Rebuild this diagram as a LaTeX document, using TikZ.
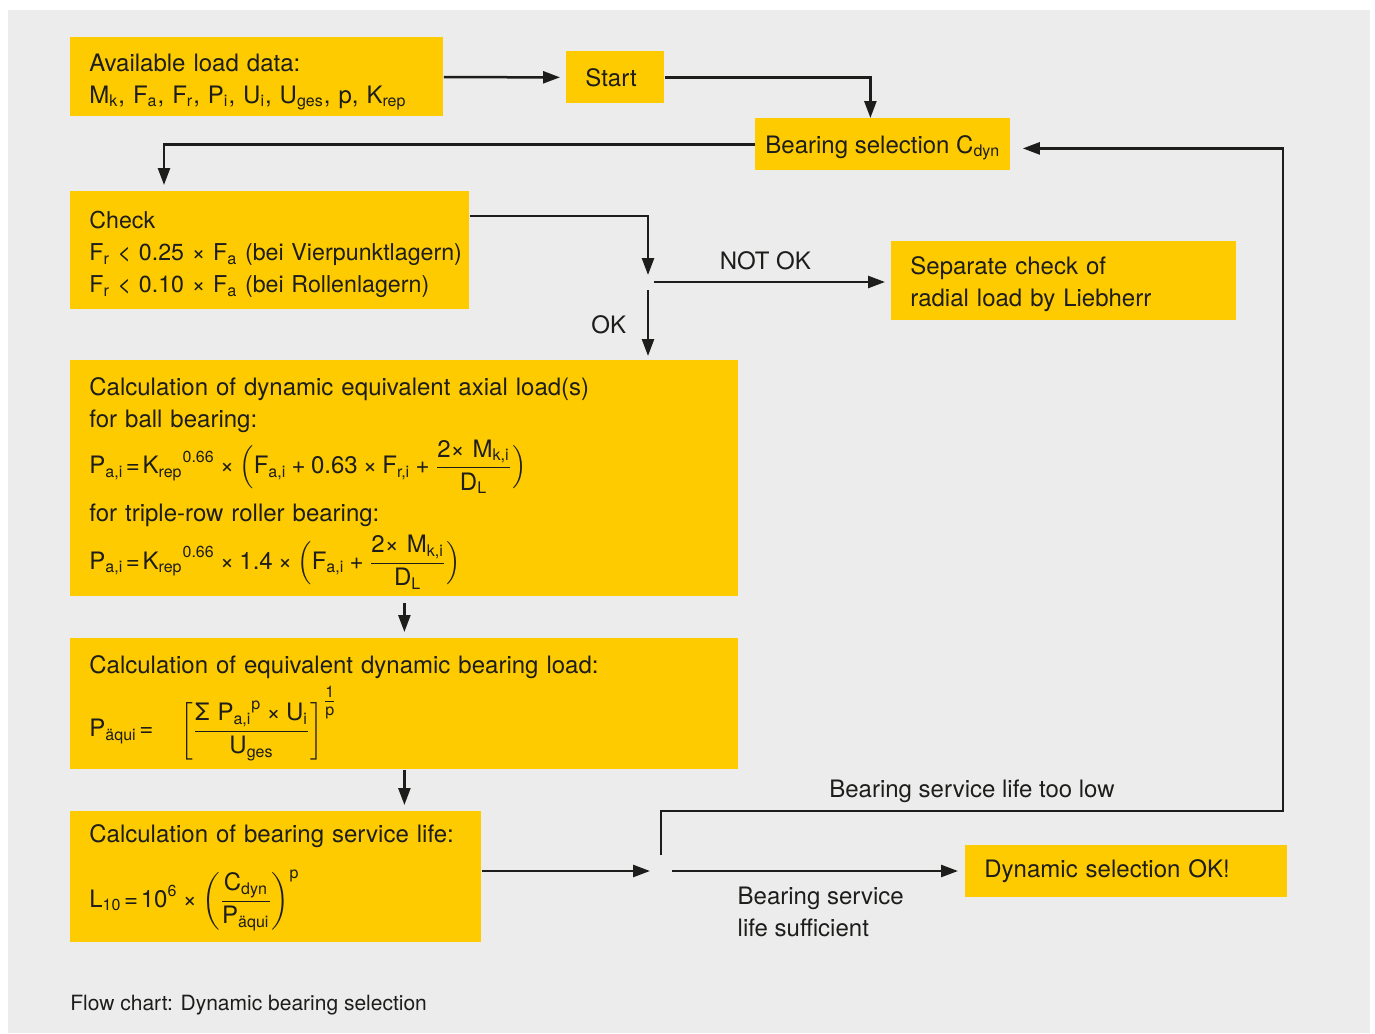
\documentclass[tikz,border=0pt]{standalone}
\usepackage{amsmath}
\usepackage{fontspec}
\setmainfont{TeX Gyre Heros}
\usetikzlibrary{arrows.meta,positioning,calc}
\definecolor{lbyellow}{HTML}{FECB00}
\definecolor{lbgrey}{HTML}{EBECEB}
\definecolor{lbline}{HTML}{1D1D1B}
\newcommand{\vsub}[2]{\text{#1}_{\text{#2}}}
\newcommand{\eq}{\mathrel{\text{=}}}
\newcommand{\tm}{\mathbin{\text{×}}}
\newcommand{\pl}{\mathbin{\text{+}}}
\newcommand{\topgap}[1]{\rule{0pt}{#1}}
\thickmuskip=2mu plus 1mu

\begin{document}
\begin{tikzpicture}[x=0.5pt, y=-0.5pt,
    every node/.style={font=\fontsize{12}{16}\selectfont, text=lbline},
    box/.style={fill=lbyellow, anchor=north west, align=left, inner xsep=9.5pt, inner ysep=0pt, text width=#1},
    tag/.style={fill=lbyellow, anchor=north west, align=center, inner sep=0pt, text depth=0pt},
    arr/.style={draw=lbline, line width=1.25pt, -{Triangle[length=8.5pt,width=6pt]}}]
  \useasboundingbox (0,0) rectangle (1375,1033);
  \fill[white] (0,0) rectangle (1375,1033);
  \fill[lbgrey] (8,10) rectangle (1370,1033);

  \node[box=167.5pt, minimum height=39.5pt] (avail) at (70,37) {\topgap{14pt}Available load data:\\
    M\textsubscript{k}, F\textsubscript{a}, F\textsubscript{r}, P\textsubscript{i}, U\textsubscript{i}, U\textsubscript{ges}, p, K\textsubscript{rep}};
  \node[box=30pt, minimum height=26pt] (start) at (566,51) {Start};
  \node[tag, minimum width=127.5pt, minimum height=26pt] (bsel) at (755,118) {Bearing selection C\textsubscript{dyn}};
  \node[box=180.5pt, minimum height=59pt, font=\fontsize{11.6}{16}\selectfont] (check) at (70,191) {\topgap{13pt}Check\\
    \mbox{F\textsubscript{r} < 0.25 × F\textsubscript{a} (bei Vierpunktlagern)}\\
    \mbox{F\textsubscript{r} < 0.10 × F\textsubscript{a} (bei Rollenlagern)}};
  \node[box=153.5pt, minimum height=39.5pt] (sep) at (891,241) {\topgap{12pt}Separate check of\\ radial load by Liebherr};
  \node[box=315pt, minimum height=118pt] (axial) at (70,360) {\topgap{14pt}Calculation of dynamic equivalent axial load(s)\\
    for ball bearing:\\[2.5pt]
    $\vsub{P}{a,i}\eq{\vsub{K}{rep}}^{\text{0.66}}\tm\Big(\vsub{F}{a,i}\pl\text{0.63}\tm\vsub{F}{r,i}\pl\dfrac{\vsub{2× M}{k,i}}{\vsub{D}{L}}\Big)$\\[4pt]
    for triple-row roller bearing:\\[3.5pt]
    $\vsub{P}{a,i}\eq{\vsub{K}{rep}}^{\text{0.66}}\tm\text{1.4}\tm\Big(\vsub{F}{a,i}\pl\dfrac{\vsub{2× M}{k,i}}{\vsub{D}{L}}\Big)$};
  \node[box=315pt, minimum height=65.5pt] (equiv) at (70,638) {\topgap{13pt}Calculation of equivalent dynamic bearing load:\\[3pt]
    $\vsub{P}{äqui}\eq\quad\left[\dfrac{\text{Σ }{\vsub{P}{a,i}}^{\text{p}}\tm\vsub{U}{i}}{\vsub{U}{ges}}\right]^{\genfrac{}{}{0.4pt}{1}{\text{1}}{\text{p}}}$};
  \node[box=186.5pt, minimum height=65.5pt] (life) at (70,811) {\topgap{10pt}Calculation of bearing service life:\\[10pt]
    $\vsub{L}{10}\eq{\text{10}}^{\text{6}}\tm\left(\dfrac{\vsub{C}{dyn}}{\vsub{P}{äqui}}\right)^{\text{p}}$};
  \node[box=142pt, minimum height=26pt] (ok) at (965,845) {Dynamic selection OK!};
  \node[anchor=base west, inner sep=0pt, font=\fontsize{10.5}{12}\selectfont] (caption) at (70,1010) {Flow chart: Dynamic bearing selection};

  \coordinate (split) at (648,282);
  \coordinate (merge) at (661,871);
  \coordinate (loop) at (1283,811);

  \draw[arr, shorten >=3pt] (avail) -- (start);
  \draw[arr] (start) -| ([xshift=-6.25pt]bsel.north);
  \draw[arr, shorten >=3pt] (bsel) -| ([xshift=47pt]check.north west);
  \draw[arr] ([yshift=-12.5pt]check.north east) -| ([yshift=3.5pt]split);
  \draw[arr, shorten >=3pt] ([xshift=3pt]split) -- node[pos=0.47, above=2pt]{NOT OK} (sep.west |- split);
  \draw[arr, shorten >=2pt] ([yshift=-4pt]split) -- node[left=7pt]{OK} (split |- axial.north);
  \draw[arr, shorten <=3pt, shorten >=3pt] (axial) -- (equiv);
  \draw[arr, shorten >=3pt] (equiv.south) -- (equiv.south |- life.north);
  \draw[arr] (life.east |- merge) -- ([xshift=-5.5pt]merge);
  \draw[arr, shorten >=3.5pt] ([xshift=5.5pt]merge) -- node[pos=0.22, anchor=north west, align=left, inner sep=0pt, yshift=-7.5pt]{Bearing service\\life sufficient} (ok.west |- merge);
  \draw[arr] ([yshift=8pt]merge) |- node[pos=0.75, above]{Bearing service life too low} (loop) |- ([xshift=6pt,yshift=-2pt]bsel.east);
\end{tikzpicture}
\end{document}
